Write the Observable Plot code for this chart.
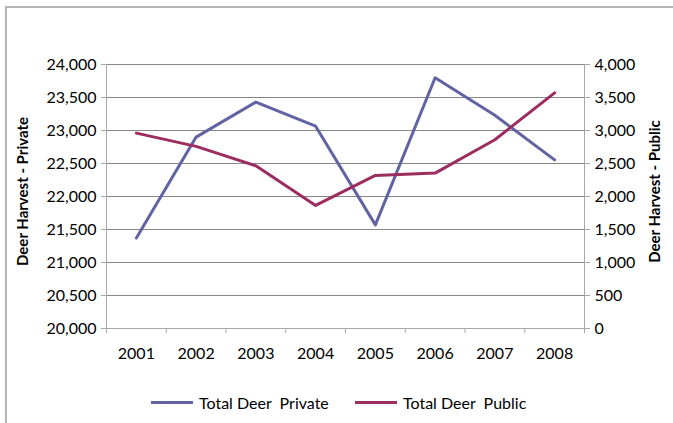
<!DOCTYPE html>
<html>
<head>
<meta charset="utf-8">
<script src="https://cdn.jsdelivr.net/npm/d3@7"></script>
<script src="https://cdn.jsdelivr.net/npm/@observablehq/plot@0.6"></script>
<style>
  body { margin: 0; background: #fff; font-family: Lato, "Open Sans", sans-serif; }
  #frame { position: absolute; left: 5px; top: 6px; width: 720px; height: 415px;
           border-left: 2px solid #b5b5b5; border-top: 2px solid #b5b5b5; border-bottom: 1px solid #e2e2e2; }
  #chart { position: absolute; left: 0; top: 0; }
  #legend { position: absolute; top: 392px; left: 0; width: 673px; height: 20px; font-size: 16px; color: #000; }
  .item { position: absolute; top: 0; display: flex; align-items: center; height: 20px; white-space: pre; }
  .sw { width: 42px; height: 3px; margin-right: 6px; }
</style>
</head>
<body>
<div id="frame"></div>
<div id="chart"></div>
<div id="legend"></div>
<script>
const years = [2001, 2002, 2003, 2004, 2005, 2006, 2007, 2008];
const privateHarvest = [21370, 22900, 23430, 23065, 21570, 23800, 23230, 22555];
const publicHarvest = [2960, 2760, 2465, 1865, 2320, 2355, 2860, 3570];
const leftTicks = [20000, 20500, 21000, 21500, 22000, 22500, 23000, 23500, 24000];
const rightOffset = 20000; // public axis 0–4,000 drawn against 20,000–24,000
const seriesNames = ["Total Deer  Private", "Total Deer  Public"];
const colors = ["#6163a3", "#9c2d60"];
const yTitles = ["Deer Harvest - Private", "Deer Harvest - Public"];

const rows = years.map((y, i) => ({year: y, priv: privateHarvest[i], pub: publicHarvest[i]}));
const bounds = d3.range(years[0] - 0.5, years[years.length - 1] + 1, 1);
const fmt = d3.format(",");

const chart = Plot.plot({
  width: 673,
  height: 380,
  marginLeft: 106,
  marginRight: 89,
  marginTop: 64,
  marginBottom: 52,
  style: {fontSize: "16px", fontFamily: "Lato, 'Open Sans', sans-serif", color: "#000", background: "transparent"},
  x: {type: "linear", domain: [years[0] - 0.5, years[years.length - 1] + 0.5]},
  y: {domain: [20000, 24000]},
  marks: [
    Plot.gridY(leftTicks, {stroke: "#878787", strokeOpacity: 1}),
    Plot.ruleX([bounds[0], bounds[bounds.length - 1]], {stroke: "#a8a8a8"}),
    Plot.ruleY([20000], {stroke: "#a8a8a8"}),
    Plot.axisY(leftTicks, {anchor: "left", tickFormat: fmt, tickSize: 5, tickPadding: 5, stroke: "#a8a8a8", label: null}),
    Plot.axisY(leftTicks, {anchor: "right", tickFormat: d => fmt(d - rightOffset), tickSize: 5, tickPadding: 5, stroke: "#a8a8a8", label: null}),
    Plot.axisX(bounds, {anchor: "bottom", tickSize: 5, tickFormat: () => "", stroke: "#a8a8a8", label: null}),
    Plot.axisX(years, {anchor: "bottom", tickSize: 0, tickPadding: 19, tickFormat: d => String(d), label: null}),
    Plot.line(rows, {x: "year", y: "priv", stroke: colors[0], strokeWidth: 3}),
    Plot.line(rows, {x: "year", y: d => d.pub + rightOffset, stroke: colors[1], strokeWidth: 3}),
    Plot.text([yTitles[0]], {frameAnchor: "left", textAnchor: "middle", rotate: -90, dx: -83, dy: -5, fontWeight: "bold", fontSize: 15}),
    Plot.text([yTitles[1]], {frameAnchor: "right", textAnchor: "middle", rotate: -90, dx: 71, dy: -5, fontWeight: "bold", fontSize: 15})
  ]
});
document.getElementById("chart").appendChild(chart);

const legend = document.getElementById("legend");
const lefts = [151, 355];
seriesNames.forEach((name, i) => {
  const item = document.createElement("div");
  item.className = "item";
  item.style.left = lefts[i] + "px";
  const sw = document.createElement("span");
  sw.className = "sw";
  sw.style.background = colors[i];
  const t = document.createElement("span");
  t.textContent = name;
  item.appendChild(sw);
  item.appendChild(t);
  legend.appendChild(item);
});
</script>
</body>
</html>
